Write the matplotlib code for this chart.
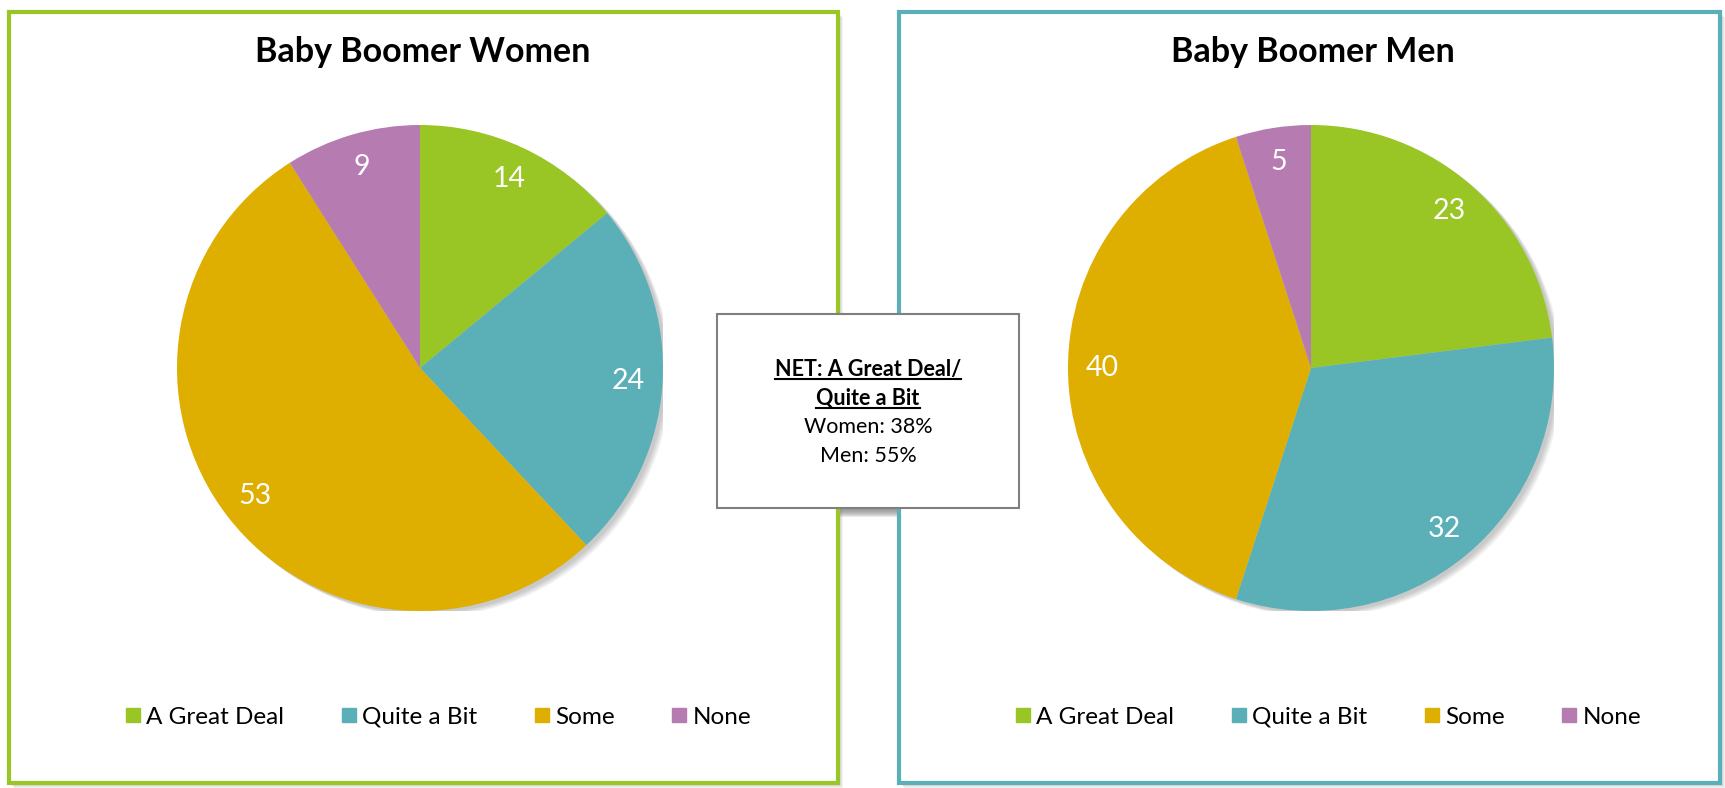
import numpy as np
import matplotlib
matplotlib.use('Agg')
import matplotlib.pyplot as plt
from matplotlib.patches import Rectangle, Ellipse
from matplotlib.lines import Line2D

# data
categories = ['A Great Deal', 'Quite a Bit', 'Some', 'None']
women = [14, 24, 53, 9]
men = [23, 32, 40, 5]
titles = ['Baby Boomer Women', 'Baby Boomer Men']
net_title = ['NET: A Great Deal/', 'Quite a Bit']
net_women = 38
net_men = 55

colors = ['#99C624', '#5BB0B8', '#DEAE00', '#B67CB2']
panel_edges = ['#99C624', '#5BB0B8']

plt.rcParams['font.family'] = ['Lato', 'DejaVu Sans']

W, H = 1725, 788
fig = plt.figure(figsize=(W / 100, H / 100), dpi=100)
fig.patch.set_facecolor('white')

# background axes in pixel units for panels and the NET box
bg = fig.add_axes([0, 0, 1, 1])
bg.set_xlim(0, W)
bg.set_ylim(H, 0)
bg.axis('off')


def shadowed_box(x0, y0, x1, y1, edge, lw, depth, alpha):
    for i in range(depth):
        bg.add_patch(Rectangle((x0 + i + 1, y0 + i + 1), x1 - x0, y1 - y0,
                               facecolor='#808080', alpha=alpha, edgecolor='none', zorder=1))
    bg.add_patch(Rectangle((x0, y0), x1 - x0, y1 - y0, facecolor='white',
                           edgecolor=edge, linewidth=lw, zorder=2))


shadowed_box(9, 12, 838, 783, panel_edges[0], 3, 5, 0.10)
shadowed_box(899, 12, 1720, 783, panel_edges[1], 3, 5, 0.10)


def draw_pie(values, cx, cy, r, title, title_x, legend_x):
    ax = fig.add_axes([(cx - r) / W, (H - cy - r) / H, 2 * r / W, 2 * r / H])
    # soft shadow behind the pie
    for k in range(6):
        ax.add_patch(Ellipse((0.012 + 0.004 * k, -0.010 - 0.003 * k), 2.0, 2.0,
                             facecolor='#555555', alpha=0.06, edgecolor='none', zorder=0))
    wedges, _ = ax.pie(values, colors=colors, startangle=90, counterclock=False,
                       radius=1, wedgeprops=dict(linewidth=0, zorder=2))
    for w, v in zip(wedges, values):
        ang = np.deg2rad((w.theta1 + w.theta2) / 2)
        ax.text(0.86 * np.cos(ang), 0.86 * np.sin(ang), str(v), color='white',
                fontsize=20.5, ha='center', va='center', zorder=3)
    ax.set_aspect('auto')
    ax.set_xlim(-1.0, 1.0)
    ax.set_ylim(-1.0, 1.0)
    ax.axis('off')

    fig.text(title_x / W, 1 - 52 / H, title, ha='center', va='center',
             fontsize=24.5, fontweight='bold', color='black')

    handles = [Line2D([], [], marker='s', ls='', markersize=10, color=c) for c in colors]
    fig.legend(handles, categories, loc='center', bbox_to_anchor=(legend_x / W, 1 - 717 / H),
               ncol=4, frameon=False, fontsize=17.5, handlelength=0.5, handletextpad=0.3,
               columnspacing=2.4)


draw_pie(women, 420, 368, 243, titles[0], 423, 439)
draw_pie(men, 1311, 368, 243, titles[1], 1313, 1329)

# NET box in the middle
shadowed_box(717, 314, 1019, 508, '#7F7F7F', 1.5, 9, 0.16)
cx = 868
t1 = fig.text(cx / W, 1 - 376 / H, net_title[0], ha='center', va='baseline',
              fontsize=15.5, fontweight='bold')
t2 = fig.text(cx / W, 1 - 405 / H, net_title[1], ha='center', va='baseline',
              fontsize=15.5, fontweight='bold')
fig.text(cx / W, 1 - 433 / H, f'Women: {net_women}%', ha='center', va='baseline', fontsize=15.5)
fig.text(cx / W, 1 - 462 / H, f'Men: {net_men}%', ha='center', va='baseline', fontsize=15.5)

fig.canvas.draw()
inv = fig.transFigure.inverted()
for t, base in [(t1, 376), (t2, 405)]:
    bb = t.get_window_extent().transformed(inv)
    y = 1 - (base + 3) / H
    fig.add_artist(Line2D([bb.x0, bb.x1], [y, y], color='black', linewidth=1.5,
                          transform=fig.transFigure))

fig.savefig('out.png', dpi=100, facecolor='white')
